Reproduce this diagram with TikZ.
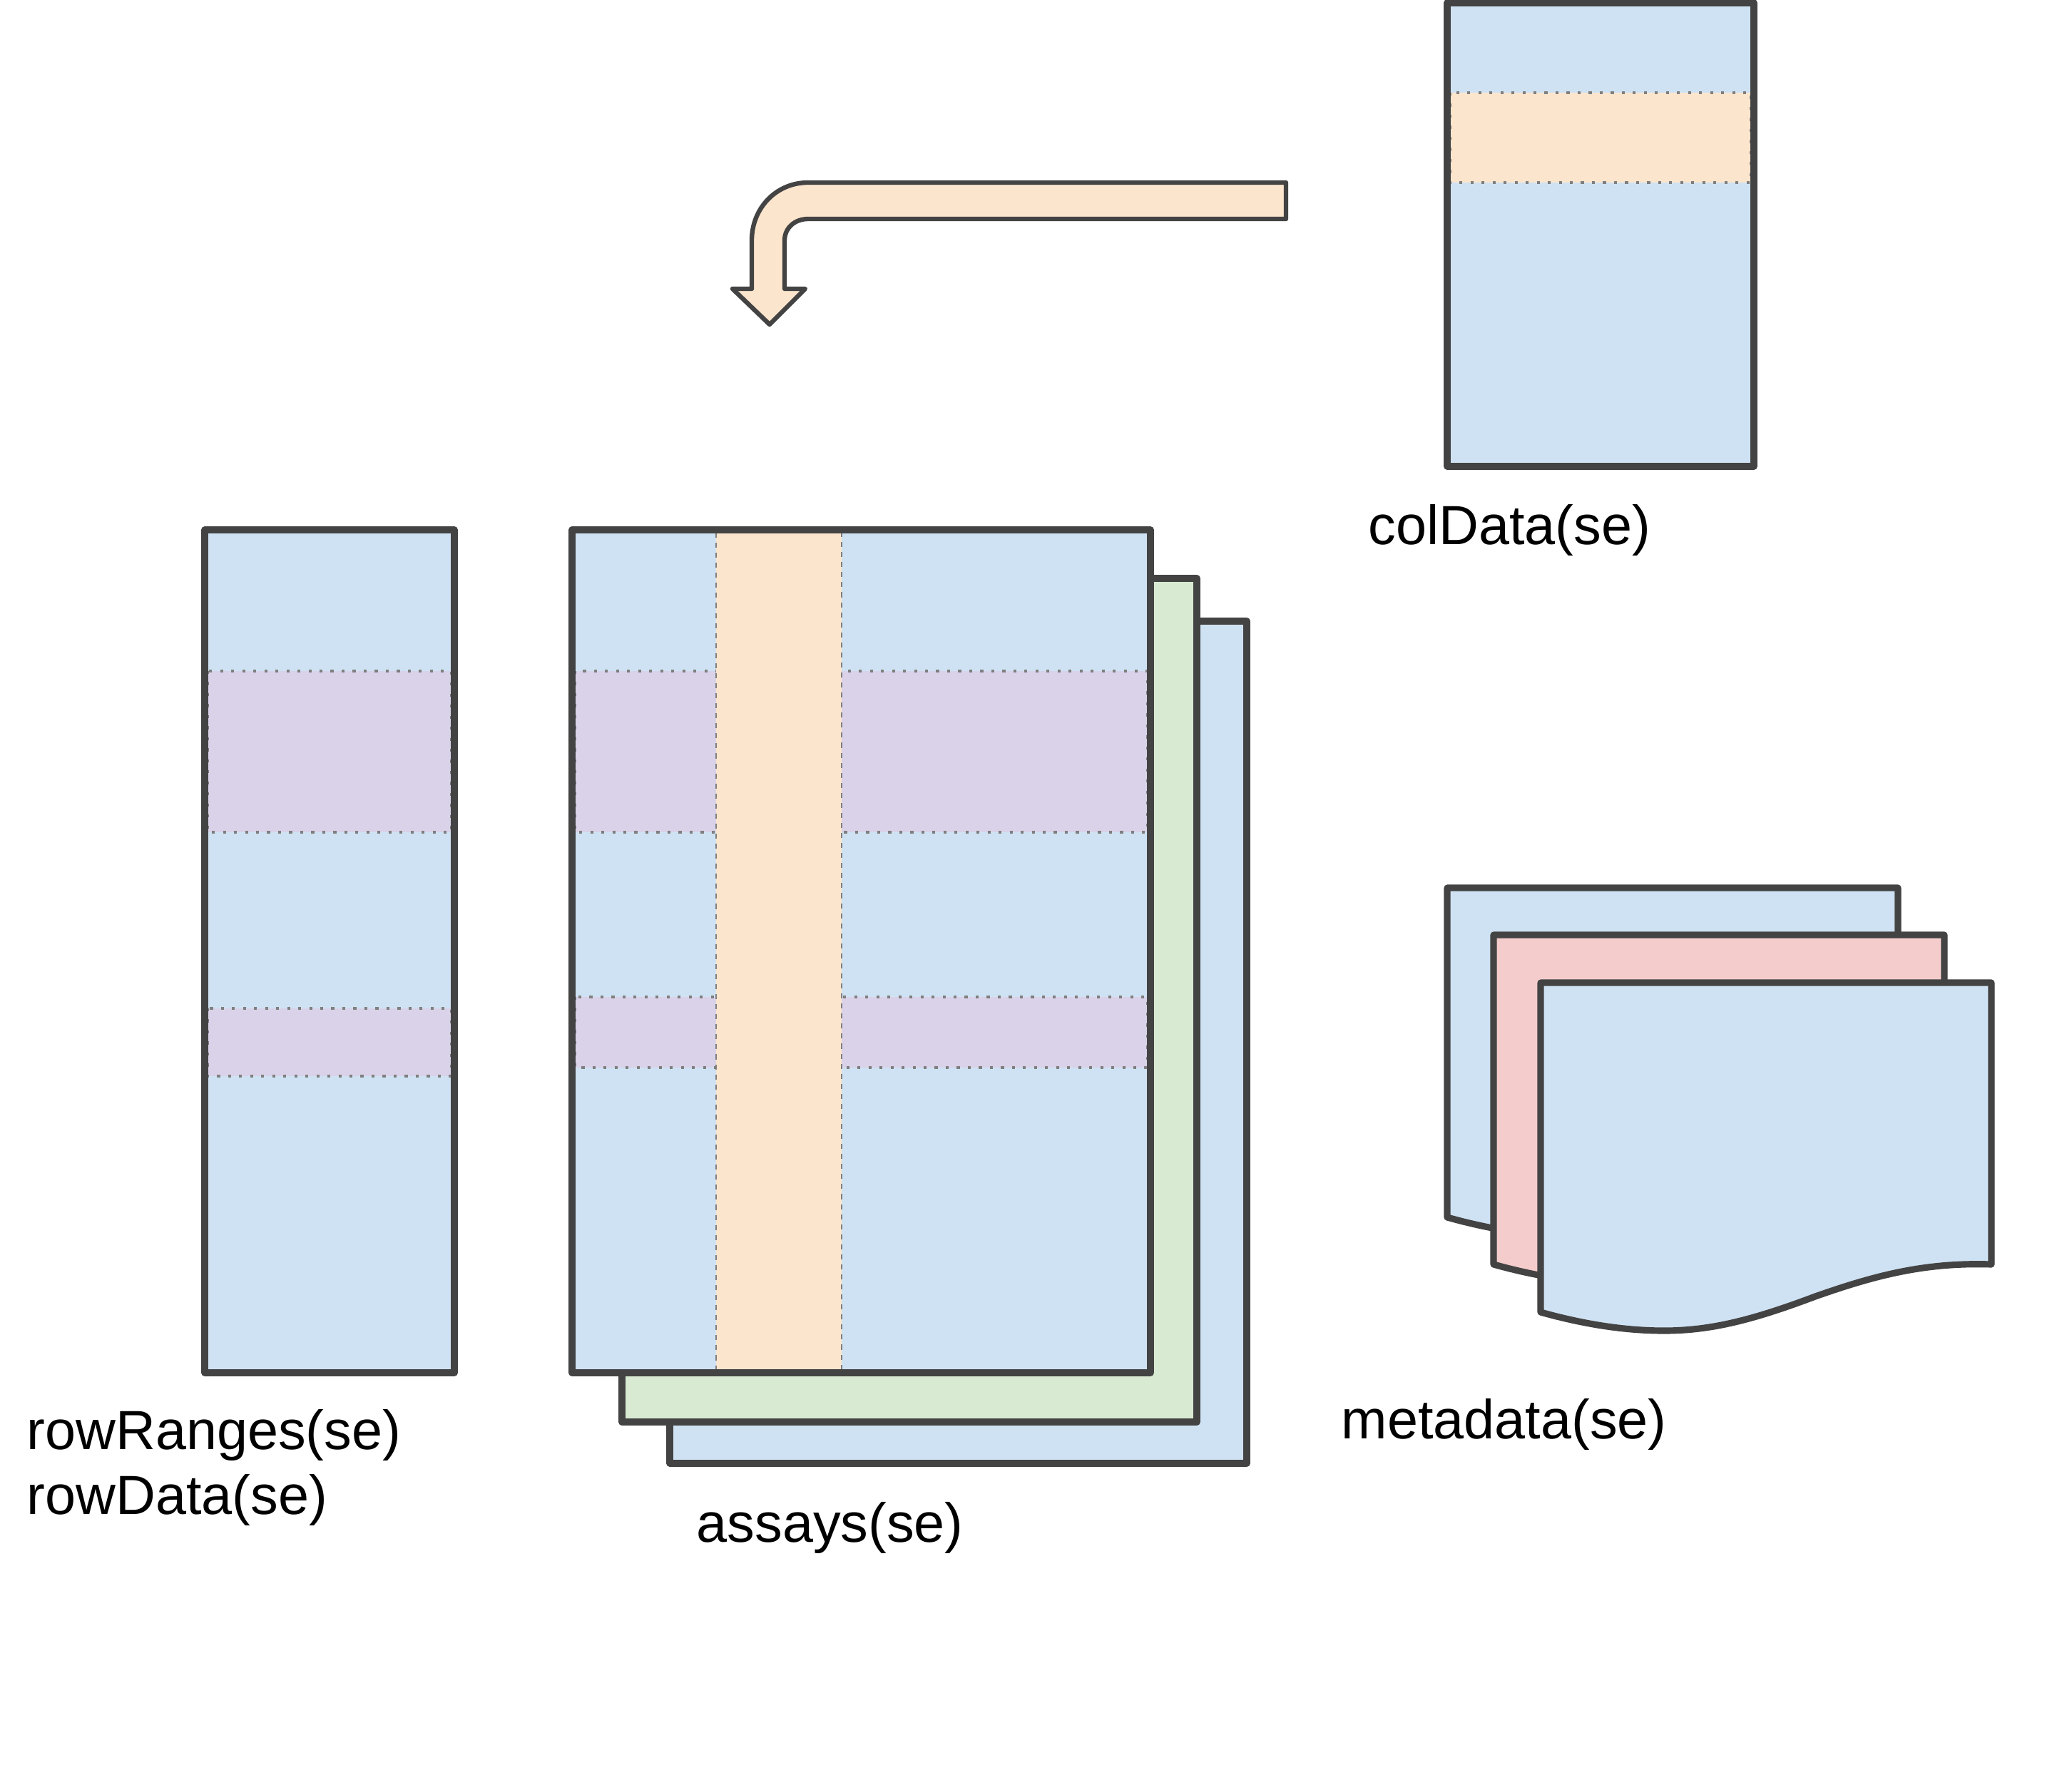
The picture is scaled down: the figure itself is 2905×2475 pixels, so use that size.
\documentclass[tikz,border=0pt]{standalone}
\usepackage{fontspec}
\setmainfont{Liberation Sans}
\definecolor{cellblue}{HTML}{CFE2F3}
\definecolor{peach}{HTML}{FCE5CD}
\definecolor{lilac}{HTML}{D9D2E9}
\definecolor{mint}{HTML}{D9EAD3}
\definecolor{rose}{HTML}{F4CCCC}
\definecolor{edge}{HTML}{434343}
\definecolor{dotgrey}{HTML}{7F7F7F}
\tikzset{
  box/.style={draw=edge, line width=2.6pt, line join=round},
  band/.style={fill=lilac, draw=dotgrey, line width=1pt, dash pattern=on 1.2pt off 3.2pt},
  colband/.style={fill=peach, draw=dotgrey, line width=0.7pt, dash pattern=on 2pt off 2pt},
  lbl/.style={anchor=west, inner sep=0pt, font=\fontsize{22}{26}\selectfont},
  pics/metasheet/.style={code={
    \draw[box, fill=#1] (0,0) -- (632,0) -- (632,395)
      .. controls (540,392) and (470,410) .. (385,440)
      .. controls (300,472) and (240,488) .. (173,488)
      .. controls (110,488) and (50,476) .. (0,462) -- cycle;
  }}
}
\begin{document}
\begin{tikzpicture}[x=0.01cm, y=-0.01cm]
  \path[use as bounding box, fill=white] (0,0) rectangle (2905,2475);

  % colData
  \fill[cellblue] (2029,4) rectangle (2459,654);
  \filldraw[band, fill=peach] (2033,130) rectangle (2455,256);
  \draw[box] (2029,4) rectangle (2459,654);
  \node[lbl] (coldata) at (1918,743) {colData(se)};

  % bent arrow
  \filldraw[draw=edge, fill=peach, line width=1.8pt, line join=round]
    (1803,256) -- (1133,256) .. controls (1088,256) and (1054,292) .. (1054,337)
    -- (1054,405) -- (1027,405) -- (1079,455) -- (1129,405) -- (1100,405)
    -- (1100,337) .. controls (1100,320) and (1114,307) .. (1133,307)
    -- (1803,307) -- cycle;

  % rowRanges / rowData
  \fill[cellblue] (287,743) rectangle (637,1925);
  \filldraw[band] (291,941) rectangle (633,1167);
  \filldraw[band] (291,1414) rectangle (633,1509);
  \draw[box] (287,743) rectangle (637,1925);
  \node[lbl] (rowranges) at (37,2012) {rowRanges(se)};
  \node[lbl] (rowdata) at (37,2103) {rowData(se)};

  % assays
  \filldraw[box, fill=cellblue] (939,871) rectangle (1748,2052);
  \filldraw[box, fill=mint] (872,811) rectangle (1678,1994);
  \fill[cellblue] (802,743) rectangle (1613,1925);
  \filldraw[band] (806,941) rectangle (1609,1167);
  \filldraw[band] (806,1398) rectangle (1609,1497);
  \filldraw[colband] (1004,747) rectangle (1180,1921);
  \draw[box] (802,743) rectangle (1613,1925);
  \node[lbl] (assays) at (976,2142) {assays(se)};

  % metadata
  \pic at (2029,1245) {metasheet=cellblue};
  \pic at (2094,1311) {metasheet=rose};
  \pic at (2160,1378) {metasheet=cellblue};
  \node[lbl] (metadata) at (1880,1997) {metadata(se)};
\end{tikzpicture}
\end{document}
